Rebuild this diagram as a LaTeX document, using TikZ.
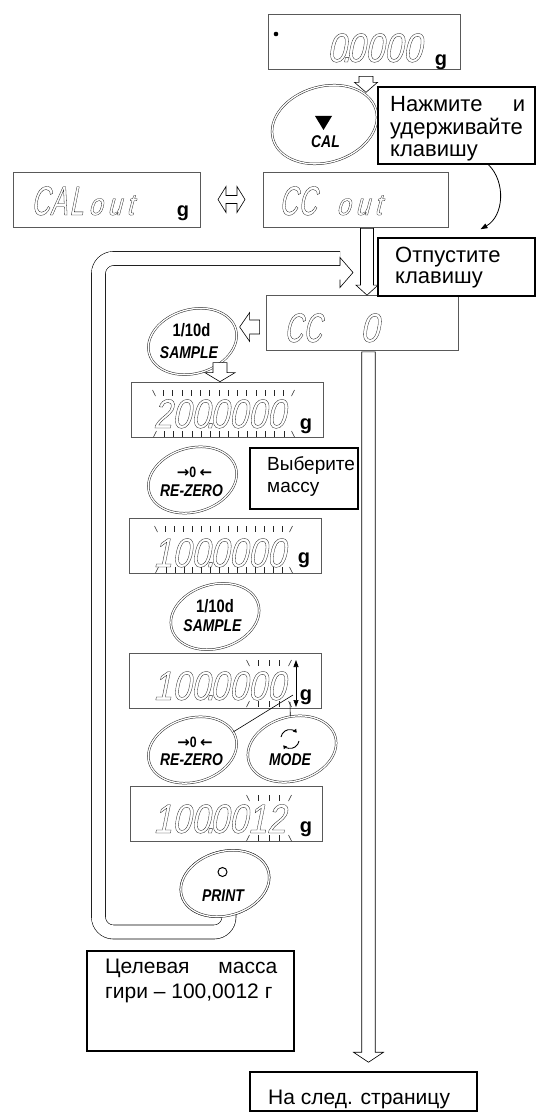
\documentclass[tikz,border=0pt]{standalone}
\usepackage{fontspec}
\setmainfont{Liberation Sans}
\newfontfamily\lcdfont[FakeSlant=0.2,FakeStretch=0.83]{Liberation Sans}
\newfontfamily\lcdletters[FakeSlant=0.2,FakeStretch=0.62]{Liberation Sans}
\newfontfamily\keyfont[FakeStretch=0.82]{Liberation Sans}
\newfontfamily\arrfont{DejaVu Sans}
\usepackage{graphicx}
\usepackage{tikz}
\usetikzlibrary{calc,arrows.meta,shapes.geometric,positioning}

% LCD glyphs are drawn as outlines
\newcommand{\outl}[1]{\special{pdf:literal direct 1 Tr 0.3 w}#1\special{pdf:literal direct 0 Tr}}
\newcommand{\dpt}{\makebox[0pt]{.}}
\newcommand{\cel}[1]{\makebox[19pt][l]{#1}}
\newcommand{\lowcel}[1]{\makebox[19pt][l]{\scalebox{1}[0.75]{#1}}}

\tikzset{
  lcd/.style={draw=black!65, line width=0.7pt, minimum width=192pt, minimum height=55pt, inner sep=0pt},
  lcdtext/.style={anchor=base west, inner sep=0pt, font=\lcdfont\fontsize{41}{41}\selectfont, text=black!90},
  unitg/.style={inner sep=0pt, font=\bfseries\fontsize{20}{20}\selectfont},
  tbox/.style={draw, line width=1.5pt, inner sep=0pt},
  say/.style={anchor=base west, inner sep=0pt, font=\fontsize{22}{21.7}\selectfont},
  key/.style={ellipse, draw=black!85, fill=white, double=white, double distance=1.3pt, line width=0.5pt,
    rotate=16, minimum width=90pt, minimum height=64pt, inner sep=0pt},
  keytext/.style={inner sep=0pt, font=\keyfont\bfseries\itshape\fontsize{17}{17}\selectfont},
  keytop/.style={inner sep=0pt, font=\keyfont\bfseries\fontsize{18}{18}\selectfont},
  zerotop/.style={inner sep=0pt, font=\keyfont\bfseries\fontsize{15}{15}\selectfont},
  hol/.style={draw, fill=white, line width=0.6pt},
  loopline/.style={draw, double, double distance=13.4pt, line width=0.6pt},
  flick/.style={draw=black!85, line width=0.55pt},
  holw/.store in=\holw, holh/.store in=\holh, holl/.store in=\holl,
  holw=6.5pt, holh=11pt, holl=10pt
}

% hollow block arrow from #2 to #3
\newcommand{\holarr}[3][]{%
  \draw[hol,#1] let \p1=#2, \p2=#3, \n1={atan2(\y2-\y1,\x2-\x1)}, \n2={veclen(\x2-\x1,\y2-\y1)} in
    [shift={(\p1)}, rotate=\n1]
    (0pt,-\holw) -- (\n2*1pt-\holl,-\holw) -- (\n2*1pt-\holl,-\holh) -- (\n2*1pt,0pt)
    -- (\n2*1pt-\holl,\holh) -- (\n2*1pt-\holl,\holw) -- (0pt,\holw) -- cycle;}

% blinking marks over a row of digits: x from, x to, count, y, +1 top / -1 bottom
\newcommand{\flicks}[5]{%
  \pgfmathsetmacro\flstep{(#2-#1)/(#3-1)}%
  \pgfmathtruncatemacro\flend{#3-2}%
  \draw[flick] (#1-1.5*#5,#4) -- (#1+1.5*#5,#4+6) (#2+1.5*#5,#4) -- (#2-1.5*#5,#4+6);
  \foreach \k in {1,...,\flend} \draw[flick] (#1+\k*\flstep,#4) -- ++(0,6);}

\begin{document}
\begin{tikzpicture}[x=1pt, y=-1pt, >={Triangle[length=7pt,width=5pt]}]
    \useasboundingbox (0,0) rectangle (536,1113);

    % loop back from PRINT
    \node[key] (printkey) at (225,883.5) {};
    \coordinate (loopbl) at (98.5,932);
    \coordinate (looptl) at (98.5,258.5);
    \coordinate (loopend) at (340,258.5);
    \draw[loopline, rounded corners=15pt] ([xshift=4pt]printkey.center) |- (loopbl) -- (looptl) -- (loopend);
    \draw[line width=0.6pt] ([yshift=-7pt]loopend) -- ++(0,-8) -- ++(13,15) -- ++(-13,15) -- ++(0,-8);

    % displays
    \node[lcd] (d1) at (364,41.5) {};
    \fill (276,34) circle [radius=2.3pt];
    \node[lcdtext] (d1t) at (327,62) {\outl{0\dpt0000}};
    \node[unitg] (d1g) at (441,62) {g};

    \node[lcd, minimum width=187pt] (calout) at (106.5,199.5) {};
    \node[lcdtext, font=\lcdletters\fontsize{41}{41}\selectfont] (caloutt) at (31,215)
        {\outl{\cel{C}\cel{A}\cel{L}\lowcel{o}\lowcel{u}\lowcel{t}}};
    \node[unitg] (caloutg) at (183,213) {g};

    \node[lcd, minimum width=185pt] (ccout) at (355.5,199.5) {};
    \node[lcdtext, font=\lcdletters\fontsize{41}{41}\selectfont] (ccoutt) at (279,215)
        {\outl{\cel{C}\cel{C}\cel{\ }\lowcel{o}\lowcel{u}\lowcel{t}}};

    \coordinate (swap) at ($(calout.east)!0.5!(ccout.west)$);
    \draw[hol] ([xshift=-13.5pt]swap) -- ++(8,-13) -- ++(0,9) -- ++(11,0) -- ++(0,-9) -- ++(8,13)
        -- ++(-8,13) -- ++(0,-9) -- ++(-11,0) -- ++(0,9) -- cycle;

    \node[lcd] (cc0) at (362,323) {};
    \node[lcdtext, font=\lcdletters\fontsize{41}{41}\selectfont] (cc0t) at (284,342)
        {\outl{\cel{C}\cel{C}\cel{\ }\cel{\ }{\lcdfont 0}}};

    \node[lcd] (d5) at (227.5,409.5) {};
    \node[lcdtext] (d5t) at (153,428) {\outl{200\dpt0000}};
    \node[unitg] (d5g) at (306,426) {g};
    \flicks{154}{293}{16}{390}{1}
    \flicks{155}{293}{16}{431}{-1}

    \node[lcd] (d6) at (225,545.5) {};
    \node[lcdtext] (d6t) at (153,567) {\outl{100\dpt0000}};
    \node[unitg] (d6g) at (304,560) {g};
    \flicks{156}{291}{16}{526}{1}
    \flicks{157}{291}{16}{567}{-1}

    \node[lcd] (d7) at (225.5,680.5) {};
    \node[lcdtext] (d7t) at (153,700) {\outl{100\dpt0000}};
    \node[unitg] (d7g) at (306,697) {g};
    \flicks{248}{290}{5}{660}{1}
    \flicks{248}{290}{5}{701}{-1}
    \coordinate (d7up) at (296,660);
    \coordinate (d7dn) at (296,707);
    \draw[<->, line width=0.7pt] (d7up) -- (d7dn);

    \node[lcd] (d8) at (226,814) {};
    \node[lcdtext] (d8t) at (153,833) {\outl{100\dpt0012}};
    \node[unitg] (d8g) at (306,829) {g};
    \flicks{248}{290}{5}{795}{1}
    \flicks{248}{290}{5}{835}{-1}

    % keys
    \node[key, minimum width=107pt, minimum height=76pt] (calkey) at (324.5,124.5) {};
    \fill (315,116) -- (332,116) -- (323.5,130) -- cycle;
    \node[keytext] (calt) at (325.5,141.5) {CAL};

    \node[key] (sample1) at (192.5,341.5) {};
    \node[keytop] (sample1a) at (191.5,330.5) {1/10d};
    \node[keytext] (sample1b) at (189,352.5) {SAMPLE};

    \node[key] (rezero1) at (192.5,480) {};
    \node[zerotop] (rezero1a) at (194.5,472.5) {{\arrfont\bfseries →}0 {\arrfont\bfseries ←}};
    \node[keytext] (rezero1b) at (191.5,491) {RE-ZERO};

    \node[key] (sample2) at (215,616.5) {};
    \node[keytop] (sample2a) at (215,606.5) {1/10d};
    \node[keytext] (sample2b) at (212.5,625.5) {SAMPLE};

    \node[key] (rezero2) at (192.5,750) {};
    \node[zerotop] (rezero2a) at (195,742) {{\arrfont\bfseries →}0 {\arrfont\bfseries ←}};
    \node[keytext] (rezero2b) at (191.5,759.5) {RE-ZERO};

    \node[key] (modekey) at (292,749) {};
    \draw[line width=0.9pt, -{Triangle[length=3.5pt,width=4pt]}] (281,737) arc[start angle=170, end angle=40, radius=9pt];
    \draw[line width=0.9pt, -{Triangle[length=3.5pt,width=4pt]}] (299,741) arc[start angle=-10, end angle=-140, radius=9pt];
    \node[keytext] (modet) at (290,759.5) {MODE};

    \node[key] (printkey2) at (printkey) {};
    \draw[line width=1pt] (222.5,872) circle [radius=4.5pt];
    \node[keytext] (printt) at (223,895.5) {PRINT};

    % pointers to the last digits
    \coordinate (d7tip) at (293,695);
    \coordinate (d7pin) at (290,702);
    \draw[line width=0.6pt] (rezero2.8) -- (d7tip);
    \draw[line width=0.6pt] (modekey.77) -- (d7pin);

    % text boxes
    \node[tbox, minimum width=157pt, minimum height=77pt] (press) at (456.5,125.5) {};
    \node[say] (presst) at (390,112)
        {\begin{tabular}[t]{@{}l@{}}\makebox[135pt][s]{Нажмите\hfill и}\\удерживайте\\клавишу\end{tabular}};
    \node[tbox, minimum width=157pt, minimum height=58pt] (release) at (456.5,267) {};
    \node[say] (releaset) at (395,262) {\begin{tabular}[t]{@{}l@{}}Отпустите\\клавишу\end{tabular}};
    \node[tbox, minimum width=108pt, minimum height=61pt] (choose) at (304,478.5) {};
    \node[say, font=\fontsize{19}{22}\selectfont] (chooset) at (267,470)
        {\begin{tabular}[t]{@{}l@{}}Выберите\\массу\end{tabular}};
    \node[tbox, minimum width=207pt, minimum height=100pt] (target) at (190.5,1001) {};
    \node[say, font=\fontsize{21}{25}\selectfont] (targett) at (105,973)
        {\begin{tabular}[t]{@{}l@{}}\makebox[172pt][s]{Целевая\hfill масса}\\гири – 100,0012 г\end{tabular}};
    \node[tbox, minimum width=227pt, minimum height=39pt] (nextp) at (363.5,1091.5) {};
    \node[say, font=\fontsize{21}{21.7}\selectfont] (nextpt) at (268,1104) {На след. страницу};

    % hollow arrows
    \holarr[holw=7pt,holh=11.5pt]{($(d1.south)+(2,7)$)}{($(d1.south)+(2,23)$)}
    \holarr{($(ccout.south)+(11.5,1)$)}{($(cc0.north)+(5,0)$)}
    \holarr[holw=7pt,holh=14.5pt]{($(cc0.west)+(-6,4)$)}{($(cc0.west)+(-26,4)$)}
    \holarr[holw=7pt,holh=15pt,holl=9pt]{($(d5.north)+(-7.5,-19)$)}{($(d5.north)+(-7.5,0)$)}
    \holarr[holw=6.75pt,holh=15pt]{($(cc0.south)+(6.5,1)$)}{($(nextp.north)+(5,-9)$)}

    % press, then let go
    \draw[->, line width=0.8pt] ($(press.south)+(32,0)$) .. controls (506,182) and (504,216) .. ($(release.north)+(24,-8)$);
\end{tikzpicture}
\end{document}
